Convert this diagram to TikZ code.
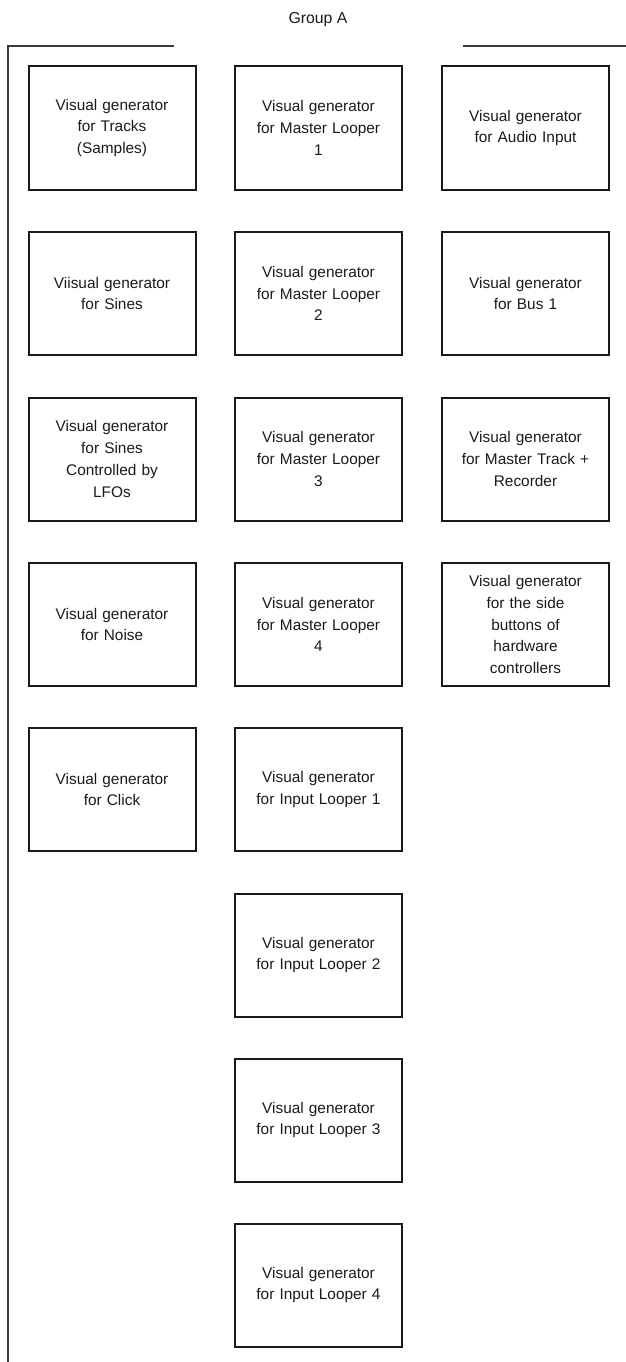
\documentclass[tikz,border=0pt]{standalone}
\usepackage{fontspec}
\setmainfont{Liberation Sans}
\definecolor{ink}{HTML}{1A1A1A}
\definecolor{frame}{HTML}{3A3A3A}
\begin{document}
\begin{tikzpicture}[x=1pt,y=-1pt,
  genbox/.style={draw=ink,line width=2pt,minimum width=167pt,minimum height=123pt,
    inner sep=2pt,align=center,text width=160pt,text=ink,
    font=\fontsize{15.4pt}{21.8pt}\selectfont},
  framepath/.style={draw=frame,line width=2pt},
  titlelbl/.style={text=ink,font=\fontsize{15.8pt}{19pt}\selectfont}]
\useasboundingbox (0,0) rectangle (626,1362);
\node[titlelbl] (title) at (318,20) {Group A};
\coordinate (fl) at (174,46);
\coordinate (fc) at (8,46);
\coordinate (fb) at (8,1364);
\coordinate (fr1) at (463,46);
\coordinate (fr2) at (628,46);
\draw[framepath] (fl) -- (fc) -- (fb);
\draw[framepath] (fr1) -- (fr2);
% column 1
\node[genbox] (a1) at (112,128) {Visual generator\\for Tracks\\(Samples)};
\node[genbox] (a2) at (112,293.5) {Viisual generator\\for Sines};
\node[genbox] (a3) at (112,459) {Visual generator\\for Sines\\Controlled by\\LFOs};
\node[genbox] (a4) at (112,624.5) {Visual generator\\for Noise};
\node[genbox] (a5) at (112,789.5) {Visual generator\\for Click};
% column 2
\node[genbox] (b1) at (318.5,128) {Visual generator\\for Master Looper\\1};
\node[genbox] (b2) at (318.5,293.5) {Visual generator\\for Master Looper\\2};
\node[genbox] (b3) at (318.5,459) {Visual generator\\for Master Looper\\3};
\node[genbox] (b4) at (318.5,624.5) {Visual generator\\for Master Looper\\4};
\node[genbox] (b5) at (318.5,789.5) {Visual generator\\for Input Looper 1};
\node[genbox] (b6) at (318.5,955) {Visual generator\\for Input Looper 2};
\node[genbox] (b7) at (318.5,1120) {Visual generator\\for Input Looper 3};
\node[genbox] (b8) at (318.5,1285) {Visual generator\\for Input Looper 4};
% column 3
\node[genbox] (c1) at (525.5,128) {Visual generator\\for Audio Input};
\node[genbox] (c2) at (525.5,293.5) {Visual generator\\for Bus 1};
\node[genbox] (c3) at (525.5,459) {Visual generator\\for Master Track +\\Recorder};
\node[genbox] (c4) at (525.5,624.5) {Visual generator\\for the side\\buttons of\\hardware\\controllers};
\end{tikzpicture}
\end{document}
